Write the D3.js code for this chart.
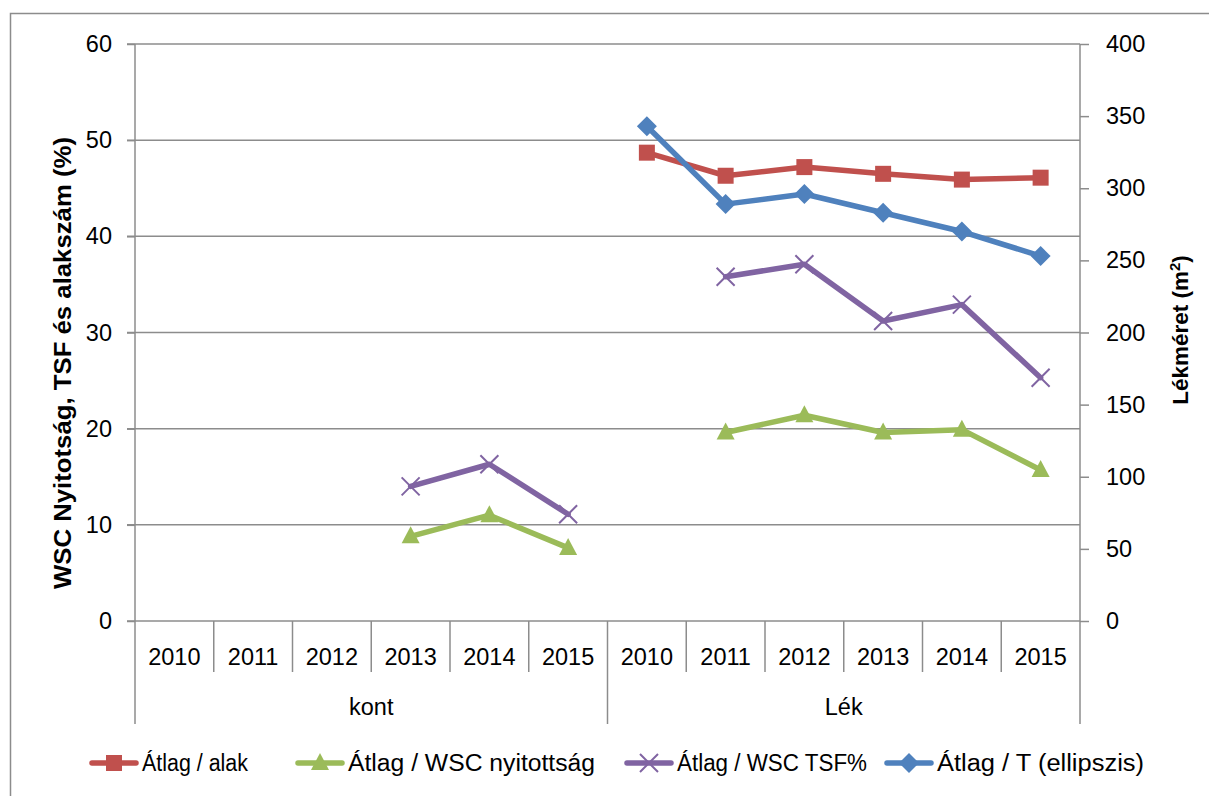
<!DOCTYPE html>
<html>
<head>
<meta charset="utf-8">
<script src="https://cdn.jsdelivr.net/npm/d3@7"></script>
<style>
  body { margin: 0; background: #fff; }
  text { font-family: "Liberation Sans", Arial, sans-serif; fill: #000; }
</style>
</head>
<body>
<svg id="chart" width="1209" height="796"></svg>
<script>
// DATA
const groups = ['kont', 'Lék']
const years = ['2010', '2011', '2012', '2013', '2014', '2015']
const alak = [null, null, null, null, null, null, 48.7, 46.3, 47.2, 46.5, 45.9, 46.1]
const nyitottsag = [null, null, null, 8.8, 11.0, 7.6, null, 19.6, 21.4, 19.6, 19.9, 15.7]
const tsf = [null, null, null, 14.0, 16.3, 11.1, null, 35.8, 37.1, 31.2, 32.9, 25.3]
const ellipszis = [null, null, null, null, null, null, 343, 289, 296, 283, 270, 253]
const leftTicks = [0, 10, 20, 30, 40, 50, 60]
const rightTicks = [0, 50, 100, 150, 200, 250, 300, 350, 400]

// category keys: group|year
const cats = groups.flatMap(g => years.map(y => `${g}|${y}`))

const svg = d3.select('#chart')
const plot = { left: 135, right: 1080, top: 44, bottom: 621 }
const gridColor = '#8c8c8c'

// outer chart border
svg.append('rect').attr('x', 10.5).attr('y', 13.5).attr('width', 1210).attr('height', 800)
    .attr('fill', 'none').attr('stroke', gridColor).attr('stroke-width', 1.5)

const x = d3.scaleBand().domain(cats).range([plot.left, plot.right])
const yL = d3.scaleLinear().domain([0, 60]).range([plot.bottom, plot.top])
const yR = d3.scaleLinear().domain([0, 400]).range([plot.bottom, plot.top])

// gridlines
svg.append('g').selectAll('line').data(leftTicks).join('line')
    .attr('x1', plot.left - 8).attr('x2', plot.right)
    .attr('y1', d => yL(d)).attr('y2', d => yL(d))
    .attr('stroke', gridColor).attr('stroke-width', 1.5)

// left axis
const leftAxis = d3.axisLeft(yL).tickValues(leftTicks).tickSize(8).tickPadding(15)
const gL = svg.append('g').attr('transform', `translate(${plot.left},0)`).call(leftAxis)
gL.select('.domain').remove()
gL.selectAll('.tick line').attr('stroke', gridColor).attr('stroke-width', 1.5)
gL.selectAll('.tick text').style('font-size', '23.5px').style('font-family', '"Liberation Sans", Arial, sans-serif')
svg.append('line').attr('x1', plot.left).attr('x2', plot.left)
    .attr('y1', plot.top).attr('y2', 724).attr('stroke', gridColor).attr('stroke-width', 1.5)

// right axis
const rightAxis = d3.axisRight(yR).tickValues(rightTicks).tickSize(9).tickPadding(17)
const gR = svg.append('g').attr('transform', `translate(${plot.right},0)`).call(rightAxis)
gR.select('.domain').remove()
gR.selectAll('.tick line').attr('stroke', gridColor).attr('stroke-width', 1.5)
gR.selectAll('.tick text').style('font-size', '23.5px').style('font-family', '"Liberation Sans", Arial, sans-serif')
svg.append('line').attr('x1', plot.right).attr('x2', plot.right)
    .attr('y1', plot.top).attr('y2', 724).attr('stroke', gridColor).attr('stroke-width', 1.5)

// category axis (two levels)
const catG = svg.append('g')
cats.forEach((c, i) => {
    const x0 = x(c)
    if (i > 0) {
        const isGroupEdge = i % years.length === 0
        catG.append('line').attr('x1', x0).attr('x2', x0)
            .attr('y1', plot.bottom).attr('y2', isGroupEdge ? 724 : 672)
            .attr('stroke', gridColor).attr('stroke-width', 1.5)
    }
    catG.append('text').attr('x', x0 + x.bandwidth() / 2).attr('y', 665)
        .attr('text-anchor', 'middle').style('font-size', '23.5px')
        .text(c.split('|')[1])
})
groups.forEach(g => {
    const first = x(`${g}|${years[0]}`)
    const last = x(`${g}|${years[years.length - 1]}`) + x.bandwidth()
    catG.append('text').attr('x', (first + last) / 2).attr('y', 715)
        .attr('text-anchor', 'middle').style('font-size', '23.5px').text(g)
})

// axis titles
svg.append('text').attr('transform', 'translate(71,363) rotate(-90)')
    .attr('text-anchor', 'middle').style('font-size', '21px').style('font-weight', 'bold')
    .attr('textLength', 452).attr('lengthAdjust', 'spacingAndGlyphs')
    .style('font-size', '23px')
    .text('WSC Nyitotság, TSF és alakszám (%)')
const rt = svg.append('text').attr('transform', 'translate(1188,330) rotate(-90)')
    .attr('text-anchor', 'middle').style('font-size', '22.5px').style('font-weight', 'bold')
rt.append('tspan').text('Lékméret (m')
rt.append('tspan').attr('dy', -8).style('font-size', '15px').text('2')
rt.append('tspan').attr('dy', 8).text(')')

// series
const series = [
    { name: 'Átlag / alak', values: alak, scale: yL, color: '#C0504D', marker: 'square' },
    { name: 'Átlag / WSC nyitottság', values: nyitottsag, scale: yL, color: '#9BBB59', marker: 'triangle' },
    { name: 'Átlag / WSC TSF%', values: tsf, scale: yL, color: '#8064A2', marker: 'x' },
    { name: 'Átlag / T (ellipszis)', values: ellipszis, scale: yR, color: '#4F81BD', marker: 'diamond' }
]

function drawMarker(g, type, cx, cy, color) {
    switch (type) {
        case 'square':
            g.append('rect').attr('x', cx - 8).attr('y', cy - 8).attr('width', 16).attr('height', 16).attr('fill', color)
            break
        case 'triangle':
            g.append('path').attr('d', `M${cx},${cy - 10}L${cx + 9},${cy + 7}L${cx - 9},${cy + 7}Z`).attr('fill', color)
            break
        case 'diamond':
            g.append('path').attr('d', `M${cx},${cy - 10}L${cx + 10},${cy}L${cx},${cy + 10}L${cx - 10},${cy}Z`).attr('fill', color)
            break
        case 'x':
            g.append('path').attr('d', `M${cx - 9},${cy - 9}L${cx + 9},${cy + 9}M${cx - 9},${cy + 9}L${cx + 9},${cy - 9}`)
                .attr('stroke', color).attr('stroke-width', 2).attr('fill', 'none')
            break
    }
}

const lineG = svg.append('g')
series.forEach(s => {
    const line = d3.line()
        .defined(d => d != null)
        .x((d, i) => x(cats[i]) + x.bandwidth() / 2)
        .y(d => s.scale(d))
    lineG.append('path').datum(s.values).attr('d', line)
        .attr('fill', 'none').attr('stroke', s.color).attr('stroke-width', 5.5)
        .attr('stroke-linejoin', 'round').attr('stroke-linecap', 'round')
    s.values.forEach((v, i) => {
        if (v == null) return
        drawMarker(lineG, s.marker, x(cats[i]) + x.bandwidth() / 2, s.scale(v), s.color)
    })
})

// legend
const legendX = [92, 298, 627, 887]
const legendW = [106, 247, 190, 207]
const legendY = 763
series.forEach((s, i) => {
    const lg = svg.append('g')
    lg.append('line').attr('x1', legendX[i]).attr('x2', legendX[i] + 44)
        .attr('y1', legendY).attr('y2', legendY)
        .attr('stroke', s.color).attr('stroke-width', 5.5).attr('stroke-linecap', 'round')
    drawMarker(lg, s.marker, legendX[i] + 22, legendY, s.color)
    lg.append('text').attr('x', legendX[i] + 50).attr('y', legendY + 8)
        .attr('textLength', legendW[i]).attr('lengthAdjust', 'spacingAndGlyphs')
        .style('font-size', '23.5px').text(s.name)
})
</script>
</body>
</html>
